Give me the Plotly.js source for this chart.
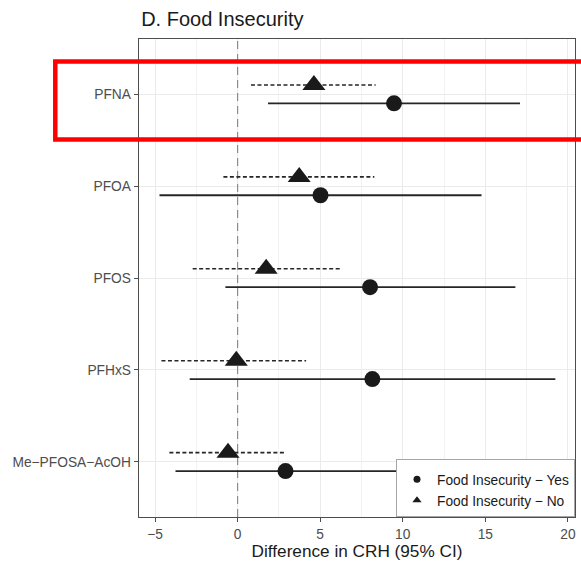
<!DOCTYPE html>
<html>
<head>
<meta charset="utf-8">
<script src="https://cdn.plot.ly/plotly-3.0.1.min.js"></script>
<style>html,body{margin:0;padding:0;background:#fff;}#chart{width:581px;height:561px;}</style>
</head>
<body>
<div id="chart"></div>
<script>
// Categories, bottom to top
var categories = ["Me\u2212PFOSA\u2212AcOH", "PFHxS", "PFOS", "PFOA", "PFNA"];

// Food Insecurity - Yes (circles, solid CI)
var yesEst = [2.9, 8.16, 8.02, 5.02, 9.47];
var yesLo  = [-3.76, -2.9, -0.74, -4.73, 1.84];
var yesHi  = [9.6, 19.24, 16.82, 14.77, 17.1];

// Food Insecurity - No (triangles, dashed CI)
var noEst = [-0.58, -0.08, 1.73, 3.73, 4.62];
var noLo  = [-4.13, -4.61, -2.72, -0.86, 0.81];
var noHi  = [2.94, 4.15, 6.22, 8.28, 8.36];

var xTicks = [-5, 0, 5, 10, 15, 20];

var dodge = 0.1;
var catPos = categories.map(function(c, i){ return i + 1; });
var yesY = catPos.map(function(p){ return p - dodge; });
var noY = catPos.map(function(p){ return p + dodge; });

function segs(lo, hi, ys){
  var x = [], y = [];
  for (var i = 0; i < lo.length; i++){
    x.push(lo[i], hi[i], null);
    y.push(ys[i], ys[i], null);
  }
  return {x: x, y: y};
}
var yesSeg = segs(yesLo, yesHi, yesY);
var noSeg = segs(noLo, noHi, noY);

var font = "Liberation Sans, Arial, sans-serif";

var traces = [
  {type: "scatter", mode: "lines", x: [0, 0], y: [0.4, 5.6], showlegend: false, hoverinfo: "skip",
   line: {color: "#8c8c8c", width: 1.2, dash: "8px,5px"}},
  {type: "scatter", mode: "lines", x: noSeg.x, y: noSeg.y, showlegend: false, hoverinfo: "skip",
   line: {color: "#262626", width: 1.6, dash: "4px,2.5px"}},
  {type: "scatter", mode: "lines", x: yesSeg.x, y: yesSeg.y, showlegend: false, hoverinfo: "skip",
   line: {color: "#262626", width: 1.8}},
  {type: "scatter", mode: "markers", x: noEst, y: noY, showlegend: false,
   marker: {symbol: "triangle-up", size: 20, color: "#1a1a1a"}},
  {type: "scatter", mode: "markers", x: yesEst, y: yesY, showlegend: false,
   marker: {symbol: "circle", size: 16, color: "#1a1a1a"}},
  {type: "scatter", mode: "markers", x: [null], y: [null], name: "Food Insecurity \u2212 Yes",
   marker: {symbol: "circle", size: 7, color: "#1a1a1a"}},
  {type: "scatter", mode: "markers", x: [null], y: [null], name: "Food Insecurity \u2212 No",
   marker: {symbol: "triangle-up", size: 8, color: "#1a1a1a"}}
];

var layout = {
  width: 581, height: 561,
  margin: {l: 138.5, r: 5.5, t: 39, b: 44, pad: 0},
  paper_bgcolor: "#ffffff", plot_bgcolor: "#ffffff",
  font: {family: font, color: "#4d4d4d"},
  title: {text: "D. Food Insecurity", xref: "paper", x: 0.005, xanchor: "left",
          yref: "container", y: 1 - 19/561, yanchor: "middle",
          font: {family: font, size: 20, color: "#1a1a1a"}},
  xaxis: {
    range: [-5.97, 20.43], tickvals: xTicks, ticktext: xTicks.map(function(v){ return v < 0 ? "\u2212" + Math.abs(v) : String(v); }),
    showgrid: true, gridcolor: "#ebebeb", gridwidth: 1,
    minor: {tick0: -2.5, dtick: 5, showgrid: true, gridcolor: "#f2f2f2", gridwidth: 1, ticks: ""},
    zeroline: false, showline: true, mirror: true, linecolor: "#4d4d4d", linewidth: 1.3,
    ticks: "outside", ticklen: 4, tickcolor: "#4d4d4d", tickwidth: 1,
    tickfont: {family: font, size: 13.75, color: "#4d4d4d"},
    title: {text: "Difference in CRH (95% CI)", standoff: 3, font: {family: font, size: 17.2, color: "#1a1a1a"}}
  },
  yaxis: {
    range: [0.4, 5.6], tickvals: catPos, ticktext: categories,
    showgrid: true, gridcolor: "#ebebeb", gridwidth: 1,
    zeroline: false, showline: true, mirror: true, linecolor: "#4d4d4d", linewidth: 1.3,
    ticks: "outside", ticklen: 4, tickcolor: "#4d4d4d", tickwidth: 1,
    tickfont: {family: font, size: 13.75, color: "#4d4d4d"}
  },
  shapes: [
    {type: "rect", xref: "paper", yref: "paper", x0: -0.192, x1: 1.1, y0: 0.790, y1: 0.953, layer: "above",
     line: {color: "#ff0000", width: 4.5}, fillcolor: "rgba(0,0,0,0)"}
  ],
  legend: {
    x: 1, xanchor: "right", xref: "paper", y: 0, yanchor: "bottom", yref: "paper",
    bgcolor: "#ffffff", bordercolor: "#a6a6a6", borderwidth: 1,
    font: {family: font, size: 13.75, color: "#1a1a1a"},
    title: {text: " ", font: {size: 3}},
    itemclick: false, tracegroupgap: 0
  },
  showlegend: true
};

Plotly.newPlot("chart", traces, layout, {displayModeBar: false, staticPlot: true});
</script>
</body>
</html>
